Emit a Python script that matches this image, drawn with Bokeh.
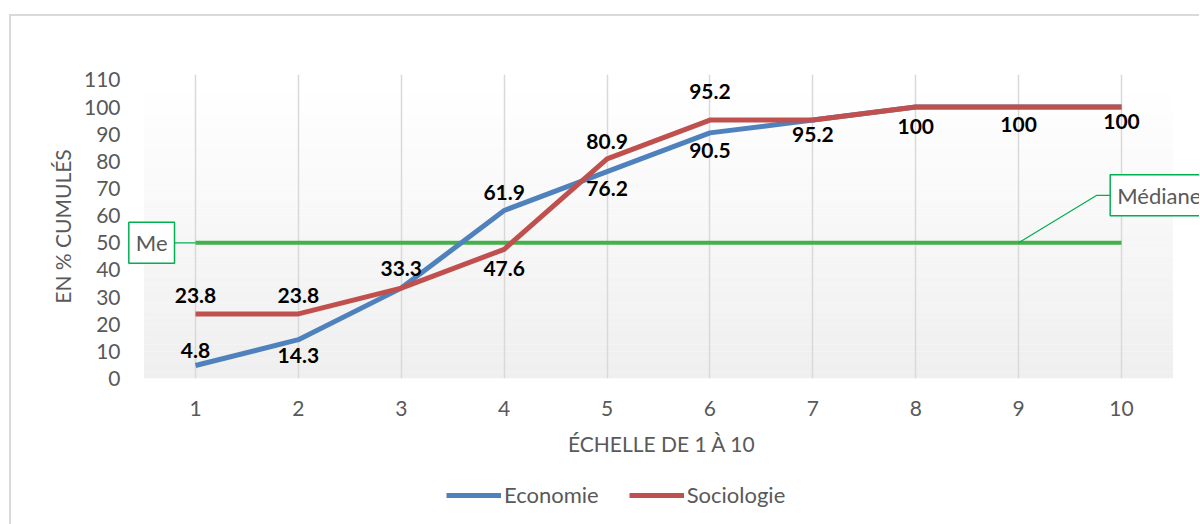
from bokeh.plotting import figure
from bokeh.layouts import column
from bokeh.models import (Range1d, FixedTicker, BoxAnnotation, Label, Legend,
                          LegendItem, ColumnDataSource)
from bokeh.core.properties import value
from bokeh.embed import file_html
from bokeh.resources import INLINE

# ---------------- data ----------------
scale = [1, 2, 3, 4, 5, 6, 7, 8, 9, 10]
economie = [4.8, 14.3, 33.3, 61.9, 76.2, 90.5, 95.2, 100, 100, 100]
sociologie = [23.8, 23.8, 33.3, 47.6, 80.9, 95.2, 95.2, 100, 100, 100]
mediane = [50, 50, 50, 50, 50, 50, 50, 50, 50, 50]
y_ticks = [0, 10, 20, 30, 40, 50, 60, 70, 80, 90, 100, 110]
series_names = ["Economie", "Sociologie"]
x_title = "ÉCHELLE DE 1 À 10"
y_title = "EN % CUMULÉS"

# which data labels are shown (label placement = style)
soc_shown = [True, True, False, True, True, True, False, False, False, False]
econ_dy = [15, -15.5, 19.5, 18, -16.5, -18, -14, -19.5, -17.5, -14.5]   # px, + = up
soc_dy = [18, 18, 0, -19, 17.5, 29, 0, 0, 0, 0]

BLUE = "#4f81bd"
RED = "#c0504d"
GREEN = "#44b04a"
BOX_GREEN = "#00b050"
GREY_TXT = "#595959"
FONT = "Lato"

W = 1188
H1, H2 = 447, 61

p = figure(width=W, height=H1, output_backend="svg", toolbar_location=None,
           x_range=Range1d(0.31, 10.758), y_range=Range1d(0, 112),
           min_border_left=113, min_border_right=0, min_border_top=58,
           min_border_bottom=85)
p.outline_line_color = None
p.background_fill_color = None
p.border_fill_color = "white"

# gradient plot area background
nb = 44
for i in range(nb):
    t = i / (nb - 1)
    c = int(round(0xef + (0xff - 0xef) * t))
    col = "#%02x%02x%02x" % (c, c, c)
    p.add_layout(BoxAnnotation(left=0.5, right=10.5,
                               bottom=110 * i / nb, top=110 * (i + 1) / nb,
                               fill_color=col, fill_alpha=1, line_color=None,
                               level="image"))

# grid (vertical only, within plot area)
p.ygrid.grid_line_color = None
p.xgrid.grid_line_color = "#d9d9d9"
p.xgrid.grid_line_width = 1.5
p.xgrid.ticker = FixedTicker(ticks=scale)
p.xgrid.bounds = (0, 110)

# axes
for ax in (p.xaxis[0], p.yaxis[0]):
    ax.axis_line_color = None
    ax.major_tick_line_color = None
    ax.minor_tick_line_color = None
    ax.major_label_text_font = FONT
    ax.major_label_text_font_size = "21px"
    ax.major_label_text_color = GREY_TXT
    ax.axis_label_text_font = FONT
    ax.axis_label_text_font_size = "21px"
    ax.axis_label_text_color = GREY_TXT
    ax.axis_label_text_font_style = "normal"
p.xaxis.ticker = FixedTicker(ticks=scale)
p.yaxis.ticker = FixedTicker(ticks=y_ticks)
p.xaxis.axis_label = x_title
p.yaxis.axis_label = y_title
p.xaxis.major_label_standoff = 16
p.xaxis.axis_label_standoff = 12
p.yaxis.major_label_standoff = -2
p.yaxis.axis_label_standoff = 6

# lines
r_med = p.line(scale, mediane, line_color=GREEN, line_width=4)
r_eco = p.line(scale, economie, line_color=BLUE, line_width=5)
r_soc = p.line(scale, sociologie, line_color=RED, line_width=5)

# data labels
lx, ly, lt, ldy = [], [], [], []
for i, v in enumerate(economie):
    lx.append(scale[i]); ly.append(v); lt.append(f"{v:g}"); ldy.append(-econ_dy[i])
for i, v in enumerate(sociologie):
    if soc_shown[i]:
        lx.append(scale[i]); ly.append(v); lt.append(f"{v:g}"); ldy.append(-soc_dy[i])
src = ColumnDataSource(dict(x=lx, y=ly, t=lt, dy=ldy))
p.text(x="x", y="y", text="t", y_offset="dy", source=src,
       text_align="center", text_baseline="middle",
       text_font=value(FONT), text_font_style="bold", text_font_size="21px",
       text_color="black")

# median callouts
p.line([0.8, scale[0]], [mediane[0], mediane[0]], line_color=BOX_GREEN, line_width=1.2)
p.add_layout(Label(x=0.574, y=mediane[0], text="Me", text_align="center",
                   text_baseline="middle", text_font=FONT, text_font_size="22px",
                   text_color=GREY_TXT, background_fill_color="white",
                   border_line_color=BOX_GREEN, border_line_width=1.5,
                   padding=7))
p.line([scale[8], 9.76, 9.9], [mediane[8], 67.5, 67.5], line_color=BOX_GREEN,
       line_width=1.2)
p.add_layout(Label(x=9.89, y=67.5, text="Médiane", text_align="left",
                   text_baseline="middle", text_font=FONT, text_font_size="22px",
                   text_color=GREY_TXT, background_fill_color="white",
                   border_line_color=BOX_GREEN, border_line_width=1.5,
                   padding=7))

# legend strip (separate small figure below the chart; its lines lie outside
# its visible range so only the legend shows)
p2 = figure(width=W, height=H2, output_backend="svg", toolbar_location=None,
            x_axis_type=None, y_axis_type=None, min_border=0,
            x_range=Range1d(0, 1), y_range=Range1d(0, 1))
p2.outline_line_color = None
p2.background_fill_color = None
p2.border_fill_color = "white"
p2.grid.grid_line_color = None
l_eco = p2.line(scale, economie, line_color=BLUE, line_width=5)
l_soc = p2.line(scale, sociologie, line_color=RED, line_width=5)
legend = Legend(items=[LegendItem(label=series_names[0], renderers=[l_eco]),
                       LegendItem(label=series_names[1], renderers=[l_soc])],
                orientation="horizontal", location=(322, 16),
                label_text_font=FONT, label_text_font_size="22px",
                label_text_color=GREY_TXT, glyph_width=55, label_standoff=3,
                spacing=30, border_line_color=None, background_fill_alpha=0,
                margin=0, padding=0)
p2.add_layout(legend, "center")

layout = column(p, p2, spacing=0, margin=(14, 0, 0, 9),
                styles={"border-top": "2px solid #d9d9d9",
                        "border-left": "2px solid #d9d9d9"})

open("out.html", "w").write(file_html(layout, INLINE))
